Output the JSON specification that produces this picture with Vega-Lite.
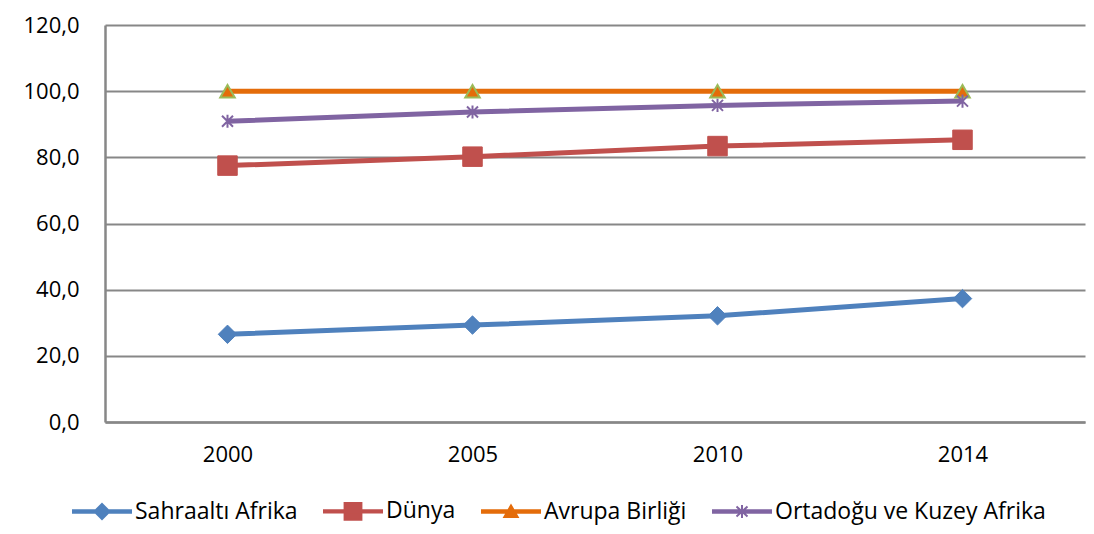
{
  "$schema": "https://vega.github.io/schema/vega-lite/v6.json",
  "autosize": "none",
  "width": 980,
  "height": 397,
  "padding": {"left": 105, "top": 25, "right": 9, "bottom": 112},
  "background": "white",
  "config": {
    "view": {"stroke": null},
    "font": "Open Sans"
  },
  "data": {
    "values": [
      {"year": "2000", "series": "Sahraaltı Afrika", "value": 26.5},
      {"year": "2005", "series": "Sahraaltı Afrika", "value": 29.3},
      {"year": "2010", "series": "Sahraaltı Afrika", "value": 32.1},
      {"year": "2014", "series": "Sahraaltı Afrika", "value": 37.3},
      {"year": "2000", "series": "Dünya", "value": 77.5},
      {"year": "2005", "series": "Dünya", "value": 80.2},
      {"year": "2010", "series": "Dünya", "value": 83.4},
      {"year": "2014", "series": "Dünya", "value": 85.3},
      {"year": "2000", "series": "Avrupa Birliği", "value": 100},
      {"year": "2005", "series": "Avrupa Birliği", "value": 100},
      {"year": "2010", "series": "Avrupa Birliği", "value": 100},
      {"year": "2014", "series": "Avrupa Birliği", "value": 100},
      {"year": "2000", "series": "Ortadoğu ve Kuzey Afrika", "value": 90.9},
      {"year": "2005", "series": "Ortadoğu ve Kuzey Afrika", "value": 93.7},
      {"year": "2010", "series": "Ortadoğu ve Kuzey Afrika", "value": 95.7},
      {"year": "2014", "series": "Ortadoğu ve Kuzey Afrika", "value": 97.0}
    ]
  },
  "encoding": {
    "x": {
      "field": "year",
      "type": "ordinal",
      "scale": {"type": "point", "padding": 0.5},
      "axis": {
        "title": null,
        "labelAngle": 0,
        "labelFont": "Open Sans",
        "labelFontSize": 22,
        "labelColor": "#000000",
        "labelPadding": 22,
        "ticks": false,
        "tickSize": 0,
        "domainColor": "#878787",
        "domainWidth": 2.5,
        "grid": false
      }
    },
    "y": {
      "field": "value",
      "type": "quantitative",
      "scale": {"domain": [0, 120], "nice": false, "zero": true},
      "axis": {
        "title": null,
        "values": [0, 20, 40, 60, 80, 100, 120],
        "labelExpr": "replace(format(datum.value, '.1f'), '.', ',')",
        "labelFont": "Open Sans",
        "labelFontSize": 22,
        "labelColor": "#000000",
        "labelPadding": 26,
        "ticks": false,
        "tickSize": 0,
        "domainColor": "#878787",
        "domainWidth": 2.5,
        "grid": true,
        "gridColor": "#878787",
        "gridWidth": 2
      }
    }
  },
  "layer": [
    {
      "mark": {"type": "line", "strokeWidth": 5},
      "encoding": {
        "color": {
          "field": "series",
          "type": "nominal",
          "scale": {
            "domain": ["Sahraaltı Afrika", "Dünya", "Avrupa Birliği", "Ortadoğu ve Kuzey Afrika"],
            "range": ["#4F81BD", "#C0504D", "#E46C0A", "#8064A2"]
          },
          "legend": {
            "title": null,
            "orient": "none",
            "legendX": -33,
            "legendY": 456,
            "direction": "horizontal",
            "labelFont": "Open Sans",
            "labelFontSize": 23,
            "labelColor": "#000000",
            "labelOffset": 3,
            "columnPadding": 22,
            "symbolSize": 3364,
            "symbolStrokeWidth": 2,
            "labelLimit": 400,
            "encode": {
              "symbols": {
                "update": {
                  "shape": {"signal": "datum.value === 'Sahraaltı Afrika' ? 'M-1,-0.04H1V0.04H-1Z M0,-0.26L0.26,0L0,0.26L-0.26,0Z' : datum.value === 'Dünya' ? 'M-1,-0.04H1V0.04H-1Z M-0.29,-0.29H0.29V0.29H-0.29Z' : datum.value === 'Avrupa Birliği' ? 'M-1,-0.04H1V0.04H-1Z M0,-0.21L0.23,0.19H-0.23Z' : 'M-1,-0.04H1V0.04H-1Z M-0.19,-0.17L0.19,0.17M-0.19,0.17L0.19,-0.17M0,-0.22V0.22'"},
                  "fill": {"scale": "color", "field": "value"},
                  "stroke": {"scale": "color", "field": "value"},
                  "strokeWidth": {"value": 2},
                  "opacity": {"value": 1}
                }
              }
            }
          }
        }
      }
    },
    {
      "transform": [{"filter": "datum.series === 'Sahraaltı Afrika'"}],
      "mark": {"type": "point", "shape": "diamond", "size": 340, "filled": true, "opacity": 1, "fill": "#4F81BD", "stroke": "#4F81BD", "strokeWidth": 1}
    },
    {
      "transform": [{"filter": "datum.series === 'Dünya'"}],
      "mark": {"type": "point", "shape": "square", "size": 380, "filled": true, "opacity": 1, "fill": "#C0504D", "stroke": "#C0504D", "strokeWidth": 1}
    },
    {
      "transform": [{"filter": "datum.series === 'Avrupa Birliği'"}],
      "mark": {"type": "point", "shape": "triangle-up", "size": 210, "filled": true, "opacity": 1, "fill": "#E46C0A", "stroke": "#9BBB59", "strokeWidth": 2}
    },
    {
      "transform": [{"filter": "datum.series === 'Ortadoğu ve Kuzey Afrika'"}],
      "mark": {"type": "point", "shape": "M-1,-1L1,1M-1,1L1,-1M0,-1.2V1.2", "size": 121, "filled": false, "opacity": 1, "fill": "#8064A2", "stroke": "#8064A2", "strokeWidth": 2}
    }
  ]
}
